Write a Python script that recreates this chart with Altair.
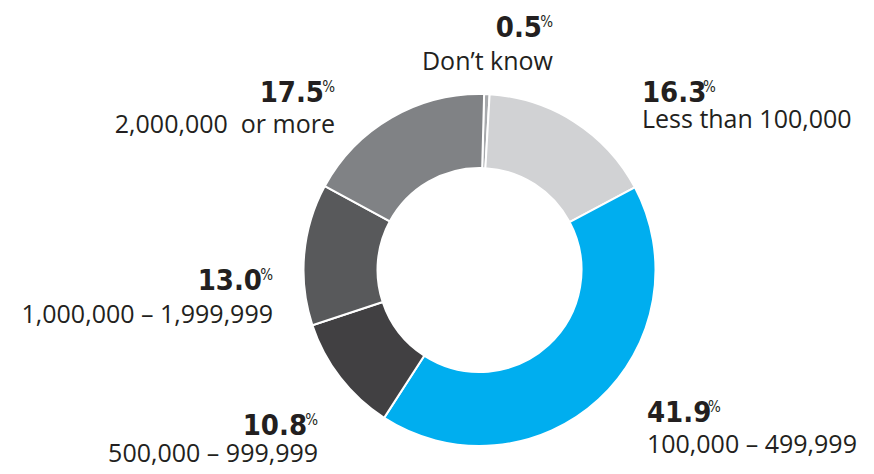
import math
import altair as alt
import pandas as pd

# ---- data ----
categories = [
    "Don\u2019t know",
    "Less than 100,000",
    "100,000 \u2013 499,999",
    "500,000 \u2013 999,999",
    "1,000,000 \u2013 1,999,999",
    "2,000,000 \u00a0or more",
]
shares = [0.5, 16.3, 41.9, 10.8, 13.0, 17.5]

palette = ["#a7a9ac", "#d1d2d4", "#00aeef", "#414042", "#58595b", "#808285"]

df = pd.DataFrame({"category": categories, "share": shares, "order": list(range(len(categories)))})

# ---- layout ----
W, H = 858, 463
CX, CY = 471.5, 262
R_OUT, R_IN = 176, 102
OFF = math.radians(1.5)
LABEL_R = 205
INK = "#231f20"
NUM_FONT = "'Liberation Sans Narrow', 'Arial Narrow', 'DejaVu Sans Condensed', 'DejaVu Sans', sans-serif"
CAT_FONT = "Open Sans"

theta_scale = alt.Scale(domain=[0, 100], range=[OFF, OFF + 2 * math.pi])

base = alt.Chart(df).transform_window(
    cum="sum(share)", sort=[alt.SortField("order")], frame=[None, 0]
).transform_calculate(
    start="datum.cum - datum.share",
    mid="datum.cum - datum.share / 2",
)

arcs = base.mark_arc(
    outerRadius=R_OUT, innerRadius=R_IN, stroke="white", strokeWidth=2
).encode(
    theta=alt.Theta("start:Q", scale=theta_scale, stack=False),
    theta2="cum:Q",
    color=alt.Color("category:N", scale=alt.Scale(domain=categories, range=palette), legend=None),
    x=alt.value(CX),
    y=alt.value(CY),
)

# label placement per slice: (align, dx, dy, category line offset)
label_layout = {
    categories[0]: ("right", 64.9, -28.2, 33),
    categories[1]: ("left", 51.9, 5.1, 26),
    categories[2]: ("left", 28.7, 1.1, 31),
    categories[3]: ("right", 0.7, 39.6, 27),
    categories[4]: ("right", -2.3, 38.2, 32.7),
    categories[5]: ("right", -42.0, 9.5, 31),
}

layers = [arcs]
for cat in categories:
    align, dx, dy, cdy = label_layout[cat]
    sub = base.transform_filter(alt.datum.category == cat)
    enc = dict(
        theta=alt.Theta("mid:Q", scale=theta_scale, stack=False),
        x=alt.value(CX),
        y=alt.value(CY),
    )
    if align == "left":
        num_dx, pct_dx, pct_align = dx, dx + 61, "left"
    else:
        num_dx, pct_dx, pct_align = dx - 11, dx, "right"
    num = sub.mark_text(
        radius=LABEL_R, align=align, baseline="alphabetic", dx=num_dx, dy=dy,
        font=NUM_FONT, fontSize=29, fontWeight="bold", color=INK,
    ).encode(text=alt.Text("share:Q", format=".1f"), **enc)
    pct = sub.mark_text(
        radius=LABEL_R, align=pct_align, baseline="alphabetic", dx=pct_dx, dy=dy - 10,
        font=NUM_FONT, fontSize=15, color=INK,
    ).encode(text=alt.value("%"), **enc)
    lab = sub.mark_text(
        radius=LABEL_R, align=align, baseline="alphabetic", dx=dx, dy=dy + cdy,
        font=CAT_FONT, fontSize=25, color=INK,
    ).encode(text="category:N", **enc)
    layers += [num, pct, lab]

chart = alt.layer(*layers).properties(
    width=W, height=H, padding=0, autosize="none", background="white"
).configure_view(stroke=None)

chart.save("out.html", embed_options={"renderer": "svg", "actions": False})
